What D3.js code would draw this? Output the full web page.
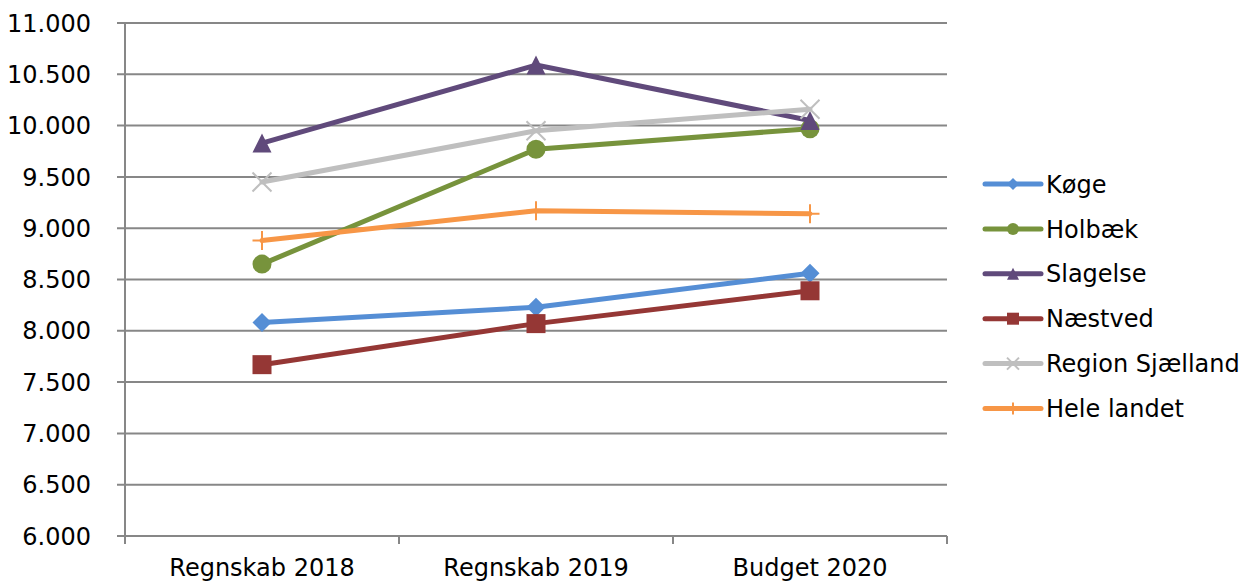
<!DOCTYPE html>
<html>
<head>
<meta charset="utf-8">
<script src="https://cdn.jsdelivr.net/npm/d3@7"></script>
<style>
  body { margin: 0; background: #fff; }
  text { font-family: "DejaVu Sans", Verdana, sans-serif; fill: #000; }
</style>
</head>
<body>
<div id="chart"></div>
<script>
const categories = ['Regnskab 2018', 'Regnskab 2019', 'Budget 2020']
const seriesNames = ['Køge', 'Holbæk', 'Slagelse', 'Næstved', 'Region Sjælland', 'Hele landet']
const koege = [8080, 8230, 8560]
const holbaek = [8650, 9770, 9970]
const slagelse = [9830, 10590, 10050]
const naestved = [7670, 8070, 8390]
const regionSjaelland = [9450, 9950, 10160]
const heleLandet = [8880, 9170, 9140]
const yTicks = [6000, 6500, 7000, 7500, 8000, 8500, 9000, 9500, 10000, 10500, 11000]

const colors = ['#558ed5', '#77933c', '#604a7b', '#953735', '#bfbfbf', '#f79646']
const shapes = ['diamond', 'circle', 'triangle', 'square', 'x', 'plus']
const allValues = [koege, holbaek, slagelse, naestved, regionSjaelland, heleLandet]

const series = seriesNames.map((name, i) => ({
    name: name,
    values: allValues[i],
    color: colors[i],
    shape: shapes[i]
}))

const width = 1244, height = 581
const plot = { left: 125, right: 947, top: 23, bottom: 536 }

const svg = d3.select('#chart').append('svg')
    .attr('width', width)
    .attr('height', height)

const x = d3.scaleBand().domain(categories).range([plot.left, plot.right]).padding(0)
const y = d3.scaleLinear().domain([6000, 11000]).range([plot.bottom, plot.top])

const fmt = v => d3.format(',')(v).replace(/,/g, '.')

// gridlines
svg.append('g')
    .selectAll('line')
    .data(yTicks)
    .join('line')
    .attr('x1', plot.left - 8)
    .attr('x2', plot.right)
    .attr('y1', d => y(d))
    .attr('y2', d => y(d))
    .attr('stroke', '#878787')
    .attr('stroke-width', 2)

// y axis line
svg.append('line')
    .attr('x1', plot.left).attr('x2', plot.left)
    .attr('y1', plot.top).attr('y2', plot.bottom + 8)
    .attr('stroke', '#878787').attr('stroke-width', 2)

// x ticks at band edges
const edges = categories.map(c => x(c) + x.bandwidth()).concat([plot.left])
svg.append('g')
    .selectAll('line')
    .data(edges)
    .join('line')
    .attr('x1', d => d).attr('x2', d => d)
    .attr('y1', plot.bottom).attr('y2', plot.bottom + 8)
    .attr('stroke', '#878787').attr('stroke-width', 2)

// y labels
svg.append('g')
    .selectAll('text')
    .data(yTicks)
    .join('text')
    .attr('x', 91)
    .attr('y', d => y(d))
    .attr('dy', '0.36em')
    .attr('text-anchor', 'end')
    .style('font-size', '24px')
    .text(d => fmt(d))

// x labels
svg.append('g')
    .selectAll('text')
    .data(categories)
    .join('text')
    .attr('x', d => x(d) + x.bandwidth() / 2)
    .attr('y', 576)
    .attr('text-anchor', 'middle')
    .style('font-size', '24px')
    .text(d => d)

function drawMarker(g, shape, color, size) {
    const h = size / 2
    if (shape === 'diamond') {
        g.append('path').attr('d', `M0,${-h}L${h},0L0,${h}L${-h},0Z`).attr('fill', color)
    } else if (shape === 'circle') {
        g.append('circle').attr('r', h).attr('fill', color)
    } else if (shape === 'triangle') {
        g.append('path').attr('d', `M0,${-h}L${h},${h}L${-h},${h}Z`).attr('fill', color)
    } else if (shape === 'square') {
        g.append('rect').attr('x', -h).attr('y', -h).attr('width', size).attr('height', size).attr('fill', color)
    } else if (shape === 'x') {
        g.append('path').attr('d', `M${-h},${-h}L${h},${h}M${-h},${h}L${h},${-h}`)
            .attr('stroke', color).attr('stroke-width', 2).attr('fill', 'none')
    } else if (shape === 'plus') {
        g.append('path').attr('d', `M0,${-h}L0,${h}M${-h},0L${h},0`)
            .attr('stroke', color).attr('stroke-width', 2).attr('fill', 'none')
    }
}

const line = d3.line()
    .x((d, i) => x(categories[i]) + x.bandwidth() / 2)
    .y(d => y(d))

series.forEach(s => {
    const g = svg.append('g')
    g.append('path')
        .attr('d', line(s.values))
        .attr('fill', 'none')
        .attr('stroke', s.color)
        .attr('stroke-width', 5)
        .attr('stroke-linejoin', 'round')
        .attr('stroke-linecap', 'round')
    s.values.forEach((v, i) => {
        const m = g.append('g')
            .attr('transform', `translate(${x(categories[i]) + x.bandwidth() / 2},${y(v)})`)
        drawMarker(m, s.shape, s.color, 19)
    })
})

// legend
const legend = svg.append('g').attr('transform', 'translate(985,184)')
series.forEach((s, i) => {
    const row = legend.append('g').attr('transform', `translate(0,${i * 44.9})`)
    row.append('line')
        .attr('x1', 0).attr('x2', 56)
        .attr('stroke', s.color).attr('stroke-width', 5)
        .attr('stroke-linecap', 'round')
    const m = row.append('g').attr('transform', 'translate(28,0)')
    drawMarker(m, s.shape, s.color, 12)
    row.append('text')
        .attr('x', 61)
        .attr('dy', '0.36em')
        .style('font-size', '24px')
        .text(s.name)
})
</script>
</body>
</html>
